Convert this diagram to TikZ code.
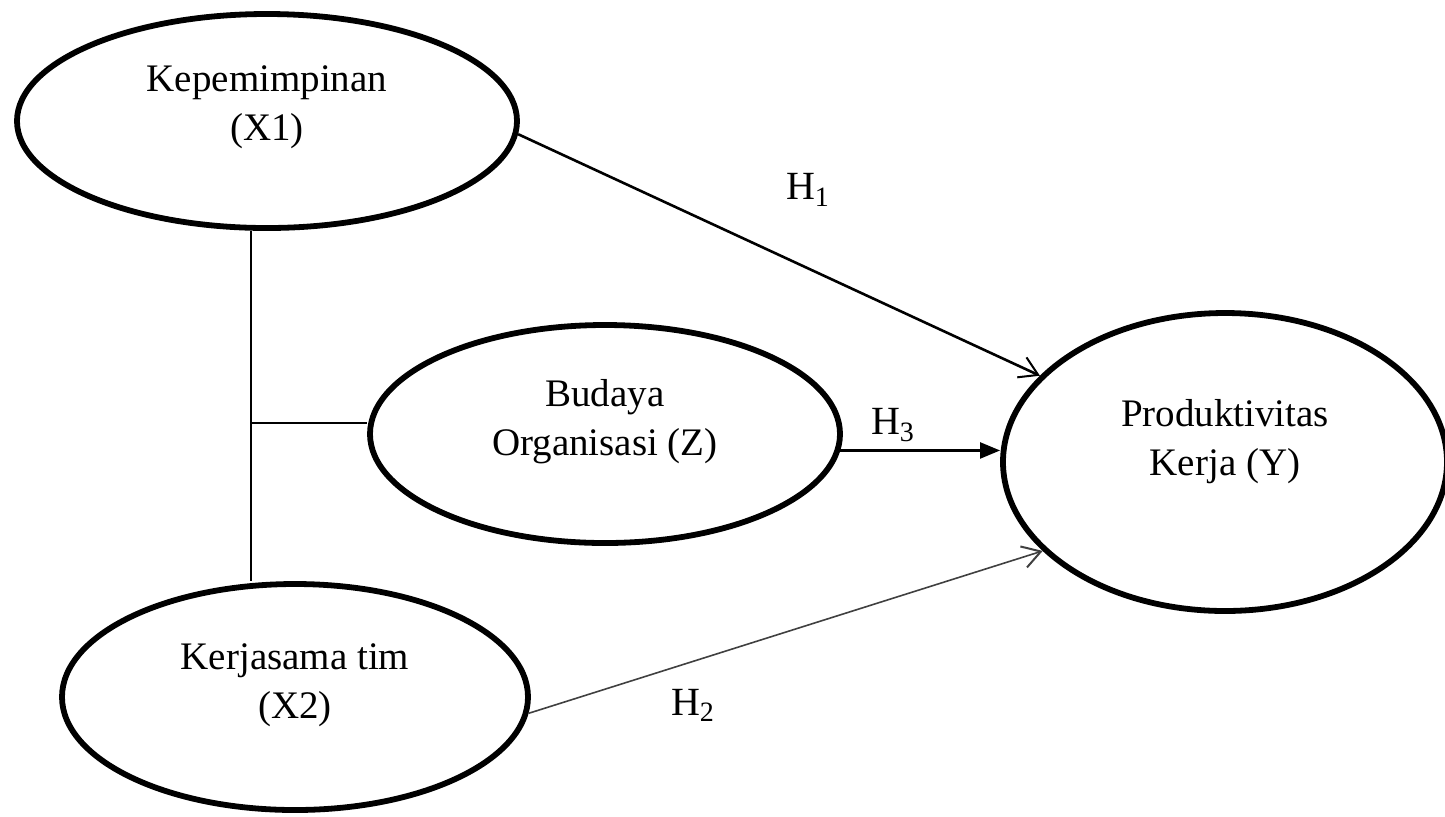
\documentclass[tikz,border=0pt]{standalone}
\usepackage{fontspec}
\setmainfont{Liberation Serif}
\usetikzlibrary{shapes.geometric,arrows.meta,calc}
\tikzset{
  ell/.style={draw, ellipse, line width=2.9pt, inner sep=0pt, fill=white},
  lbl/.style={align=center, font=\fontsize{19.5}{24.5}\selectfont, inner sep=0pt},
  hyp/.style={font=\fontsize{20}{24}\selectfont, inner sep=0pt},
  link/.style={line width=0.9pt},
  openarrow/.style={line width=1.3pt, -{Straight Barb[length=9pt,width=11pt,line width=1pt]}},
  fillarrow/.style={line width=1.1pt, -{Triangle[length=10pt,width=8pt]}}
}
\begin{document}
\begin{tikzpicture}[x=0.5pt,y=-0.5pt]
\useasboundingbox (0,0) rectangle (1445,816);
\node[ell, minimum width=250pt, minimum height=107pt] (x1) at (267,121) {};
\node[ell, minimum width=235pt, minimum height=109pt] (z) at (605,434) {};
\node[ell, minimum width=222pt, minimum height=149pt] (y) at (1225,462) {};
\node[ell, minimum width=233pt, minimum height=113pt] (x2) at (295,697) {};
\node[lbl] (tx1) at ([yshift=7pt]x1.center) {Kepemimpinan\\(X1)};
\node[lbl] (tz) at ([yshift=6pt]z.center) {Budaya\\Organisasi (Z)};
\node[lbl] (ty) at ([yshift=10pt]y.center) {Produktivitas\\Kerja (Y)};
\node[lbl] (tx2) at ([yshift=6pt]x2.center) {Kerjasama tim\\(X2)};
\coordinate (j) at (251,423);
\draw[link] (j |- x1.south) -- (j |- x2.north);
\draw[link] (j) -- (j -| z.west);
\draw[openarrow] (x1.-3) -- (y.155);
\draw[fillarrow] (z.-4.4) -- (z.-4.4 -| y.west);
\draw[openarrow, line width=0.8pt, draw=black!75] (x2.-4) -- (y.206);
\node[hyp] (h1) at (808,190) {H\textsubscript{1}};
\node[hyp] (h3) at (893,425) {H\textsubscript{3}};
\node[hyp] (h2) at (693,705) {H\textsubscript{2}};
\end{tikzpicture}
\end{document}
